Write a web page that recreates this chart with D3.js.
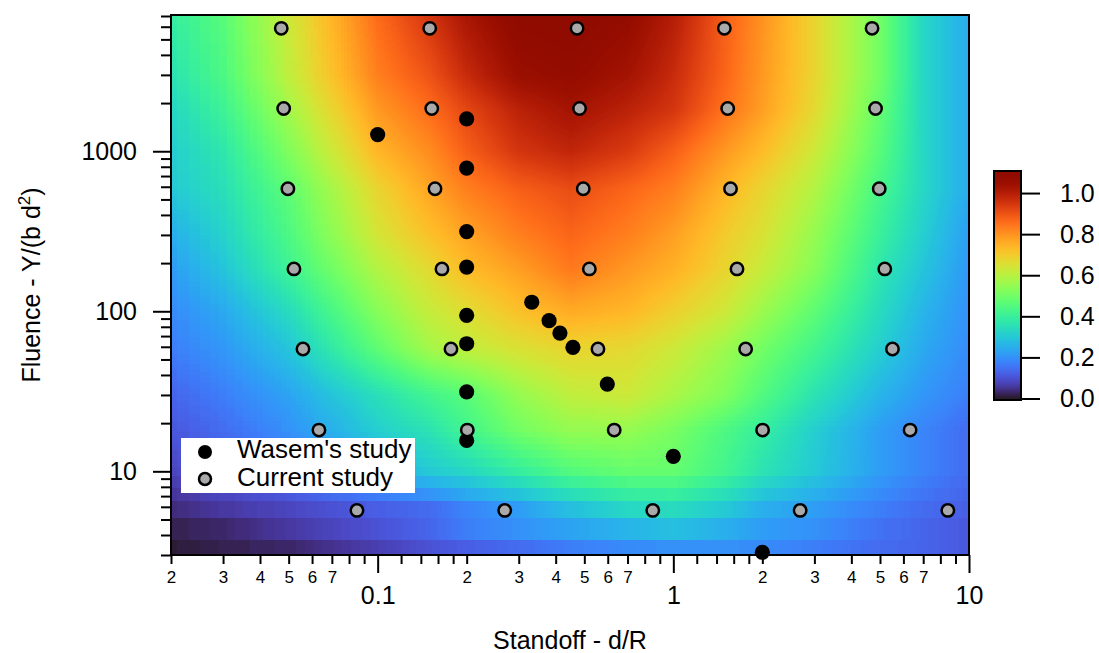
<!DOCTYPE html>
<html lang="en">
<head>
  <meta charset="UTF-8" />
  <title>Standoff / fluence map</title>
  <script src="https://d3js.org/d3.v7.min.js"></script>
  <style>
    html, body { margin: 0; padding: 0; background: #fff; }
    svg { display: block; font-family: "Liberation Sans", Arial, Helvetica, sans-serif; }
    .tick line { stroke: #000; stroke-width: 2px; }
    .domain { display: none; }
  </style>
</head>
<body>
  <svg width="1099" height="653"></svg>
  <script>
    // map values at these standoff / fluence nodes
    const gridStandoff = [0.02, 0.03, 0.05, 0.1, 0.15, 0.2, 0.3, 0.45, 0.7, 1, 1.5, 2, 3, 5, 7, 10];
    const gridFluence = [3, 4.4, 5.8, 10, 18, 30, 58, 100, 183, 300, 580, 1000, 1830, 3000, 7000];
    const gridValues = [
      [0.01, 0.02, 0.03, 0.07, 0.10, 0.12, 0.14, 0.17, 0.19, 0.20, 0.20, 0.19, 0.17, 0.14, 0.13, 0.11],
      [0.02, 0.03, 0.06, 0.10, 0.13, 0.17, 0.20, 0.23, 0.26, 0.28, 0.25, 0.22, 0.20, 0.15, 0.13, 0.11],
      [0.04, 0.06, 0.08, 0.12, 0.14, 0.18, 0.22, 0.28, 0.33, 0.34, 0.30, 0.25, 0.22, 0.17, 0.14, 0.12],
      [0.08, 0.11, 0.15, 0.24, 0.30, 0.33, 0.39, 0.45, 0.48, 0.48, 0.42, 0.36, 0.30, 0.22, 0.18, 0.14],
      [0.11, 0.14, 0.20, 0.31, 0.36, 0.42, 0.50, 0.55, 0.55, 0.51, 0.44, 0.39, 0.31, 0.22, 0.18, 0.14],
      [0.13, 0.17, 0.23, 0.35, 0.42, 0.46, 0.55, 0.61, 0.63, 0.58, 0.52, 0.45, 0.36, 0.26, 0.21, 0.17],
      [0.17, 0.21, 0.29, 0.47, 0.57, 0.61, 0.65, 0.68, 0.67, 0.63, 0.56, 0.50, 0.42, 0.31, 0.24, 0.19],
      [0.19, 0.24, 0.34, 0.53, 0.62, 0.66, 0.72, 0.76, 0.74, 0.69, 0.63, 0.56, 0.47, 0.34, 0.26, 0.20],
      [0.22, 0.29, 0.41, 0.59, 0.67, 0.73, 0.78, 0.84, 0.79, 0.75, 0.68, 0.62, 0.53, 0.37, 0.29, 0.21],
      [0.25, 0.32, 0.44, 0.64, 0.72, 0.77, 0.83, 0.87, 0.83, 0.78, 0.70, 0.65, 0.55, 0.40, 0.31, 0.22],
      [0.30, 0.35, 0.47, 0.68, 0.77, 0.83, 0.88, 0.91, 0.87, 0.83, 0.74, 0.68, 0.59, 0.43, 0.33, 0.24],
      [0.31, 0.37, 0.52, 0.74, 0.81, 0.88, 0.95, 0.98, 0.94, 0.88, 0.79, 0.73, 0.63, 0.46, 0.33, 0.24],
      [0.33, 0.41, 0.57, 0.79, 0.86, 0.92, 0.99, 1.03, 0.99, 0.95, 0.85, 0.78, 0.67, 0.48, 0.33, 0.24],
      [0.36, 0.44, 0.61, 0.83, 0.90, 0.97, 1.05, 1.07, 1.03, 0.97, 0.87, 0.79, 0.68, 0.50, 0.33, 0.24],
      [0.39, 0.46, 0.63, 0.86, 0.95, 1.02, 1.09, 1.10, 1.07, 1.00, 0.88, 0.80, 0.68, 0.50, 0.33, 0.24]
    ];

    const wasemStandoff = [0.1, 0.2, 0.2, 0.2, 0.2, 0.2, 0.2, 0.2, 0.2, 0.332, 0.38, 0.4135, 0.4575, 0.598, 1.0, 2.0];
    const wasemFluence = [1271, 1592, 785, 315, 189, 94.4, 62.7, 31.4, 15.6, 113.9, 87.3, 73.1, 59.5, 35.1, 12.4, 3.12];

    const currentStandoff = [
      0.0472, 0.150, 0.4725, 1.488, 4.70,
      0.0481, 0.1524, 0.4817, 1.527, 4.83,
      0.0497, 0.1563, 0.4958, 1.561, 4.97,
      0.0521, 0.165, 0.520, 1.642, 5.19,
      0.0559, 0.177, 0.556, 1.756, 5.51,
      0.0633, 0.201, 0.631, 2.004, 6.32,
      0.0851, 0.269, 0.852, 2.685, 8.48
    ];
    const currentFluence = [
      5860, 5860, 5860, 5860, 5860,
      1849, 1849, 1849, 1849, 1849,
      583, 583, 583, 583, 583,
      184, 184, 184, 184, 184,
      58.1, 58.1, 58.1, 58.1, 58.1,
      18.1, 18.1, 18.1, 18.1, 18.1,
      5.70, 5.70, 5.70, 5.70, 5.70
    ];

    const xMajorTicks = [0.1, 1, 10];
    const xMinorTicks = [0.02, 0.03, 0.04, 0.05, 0.06, 0.07, 0.08, 0.09,
      0.12, 0.14, 0.16, 0.18, 0.2, 0.3, 0.4, 0.5, 0.6, 0.7, 0.8, 0.9,
      1.2, 1.4, 1.6, 1.8, 2, 3, 4, 5, 6, 7, 8, 9];
    const xMinorLabels = {0.02: "2", 0.03: "3", 0.04: "4", 0.05: "5", 0.06: "6", 0.07: "7",
      0.2: "2", 0.3: "3", 0.4: "4", 0.5: "5", 0.6: "6", 0.7: "7",
      2: "2", 3: "3", 4: "4", 5: "5", 6: "6", 7: "7"};
    const yMajorTicks = [10, 100, 1000];
    const yMinorTicks = [3, 4, 5, 6, 7, 8, 9, 20, 30, 40, 50, 60, 70, 80, 90,
      200, 300, 400, 500, 600, 700, 800, 900, 2000, 3000, 4000, 5000, 6000, 7000];
    const colorTicks = [0, 0.2, 0.4, 0.6, 0.8, 1.0];

    const svg = d3.select("svg");
    const mLeft = 171, mRight = 969, mTop = 16, mBottom = 555;

    const x = d3.scaleLog().domain([0.02, 10]).range([mLeft, mRight]);
    const y = d3.scaleLog().domain([3, 7000]).range([mBottom, mTop]);
    const vmax = 1.1;
    const lut = d3.range(256).map(i => d3.rgb(d3.interpolateTurbo(i / 255)));

    // --- heat map on a canvas, pasted in as an image
    const W = mRight - mLeft, H = mBottom - mTop;
    const canvas = document.createElement("canvas");
    canvas.width = W; canvas.height = H;
    const ctx = canvas.getContext("2d");
    const img = ctx.createImageData(W, H);
    const lxs = gridStandoff.map(Math.log10);
    const lys = gridFluence.map(Math.log10);

    function locate(arr, v) {
      let i = d3.bisectRight(arr, v) - 1;
      i = Math.max(0, Math.min(arr.length - 2, i));
      const f = Math.max(0, Math.min(1, (v - arr[i]) / (arr[i + 1] - arr[i])));
      return [i, f];
    }

    for (let py = 0; py < H; py++) {
      const yv = y.invert(mTop + py + 0.5);
      const yq = 3 + 1.4 * Math.round((yv - 3) / 1.4);   // rows of the original grid
      const [j, fy] = locate(lys, Math.log10(yq));
      for (let px = 0; px < W; px++) {
        const xv = x.invert(mLeft + px + 0.5);
        const xq = 0.02 + 0.002 * Math.round((xv - 0.02) / 0.002);
        const [i, fx] = locate(lxs, Math.log10(xq));
        const v = (1 - fx) * (1 - fy) * gridValues[j][i] + fx * (1 - fy) * gridValues[j][i + 1]
          + (1 - fx) * fy * gridValues[j + 1][i] + fx * fy * gridValues[j + 1][i + 1];
        const c = lut[Math.round(Math.max(0, Math.min(1, v / vmax)) * 255)];
        const k = (py * W + px) * 4;
        img.data[k] = c.r; img.data[k + 1] = c.g; img.data[k + 2] = c.b; img.data[k + 3] = 255;
      }
    }
    ctx.putImageData(img, 0, 0);

    svg.append("image")
      .attr("x", mLeft).attr("y", mTop)
      .attr("width", W).attr("height", H)
      .attr("preserveAspectRatio", "none")
      .attr("href", canvas.toDataURL());

    svg.append("rect")
      .attr("x", mLeft).attr("y", mTop - 1)
      .attr("width", W).attr("height", H + 1)
      .attr("fill", "none").attr("stroke", "#000").attr("stroke-width", 2);

    // --- axes
    const xMinor = svg.append("g").attr("transform", `translate(0,${mBottom})`)
      .call(d3.axisBottom(x).tickValues(xMinorTicks).tickSize(9).tickPadding(7)
        .tickFormat(d => xMinorLabels[d] || ""));
    xMinor.selectAll("text").attr("font-size", 17).attr("font-family", null);

    const xMajor = svg.append("g").attr("transform", `translate(0,${mBottom})`)
      .call(d3.axisBottom(x).tickValues(xMajorTicks).tickSize(18).tickPadding(13)
        .tickFormat(d => String(d)));
    xMajor.selectAll("text").attr("font-size", 25).attr("font-family", null);

    svg.append("g").attr("transform", `translate(${mLeft},0)`)
      .call(d3.axisLeft(y).tickValues(yMinorTicks).tickSize(10).tickFormat(""));

    const yMajor = svg.append("g").attr("transform", `translate(${mLeft},0)`)
      .call(d3.axisLeft(y).tickValues(yMajorTicks).tickSize(18).tickPadding(16)
        .tickFormat(d => String(d)));
    yMajor.selectAll("text").attr("font-size", 25).attr("font-family", null);

    svg.append("text")
      .attr("x", 570).attr("y", 649)
      .attr("text-anchor", "middle").attr("font-size", 25)
      .text("Standoff - d/R");

    const yTitle = svg.append("text")
      .attr("transform", "translate(40,285) rotate(-90)")
      .attr("text-anchor", "middle").attr("font-size", 25);
    yTitle.append("tspan").text("Fluence - Y/(b d");
    yTitle.append("tspan").attr("dy", -10).attr("font-size", 17).text("2");
    yTitle.append("tspan").attr("dy", 10).text(")");

    // --- markers
    svg.append("g").selectAll("circle")
      .data(d3.range(wasemStandoff.length))
      .enter().append("circle")
      .attr("cx", i => x(wasemStandoff[i]))
      .attr("cy", i => y(wasemFluence[i]))
      .attr("r", 7.6)
      .attr("fill", "#000");

    svg.append("g").selectAll("circle")
      .data(d3.range(currentStandoff.length))
      .enter().append("circle")
      .attr("cx", i => x(currentStandoff[i]))
      .attr("cy", i => y(currentFluence[i]))
      .attr("r", 6.2)
      .attr("fill", "#a9a9a9")
      .attr("stroke", "#000").attr("stroke-width", 2.5);

    // --- legend
    const legend = svg.append("g");
    legend.append("rect").attr("x", 181).attr("y", 438).attr("width", 234).attr("height", 55).attr("fill", "#fff");
    legend.append("circle").attr("cx", 205).attr("cy", 452).attr("r", 7).attr("fill", "#000");
    legend.append("circle").attr("cx", 205).attr("cy", 479).attr("r", 6).attr("fill", "#a9a9a9")
      .attr("stroke", "#000").attr("stroke-width", 2.5);
    legend.append("text").attr("x", 237).attr("y", 458).attr("font-size", 26).text("Wasem's study");
    legend.append("text").attr("x", 237).attr("y", 486).attr("font-size", 26).text("Current study");

    // --- colour bar
    const cb = d3.scaleLinear().domain([0, vmax]).range([398.5, 172.5]);
    const cbTop = 171, cbBottom = 400;
    const grad = svg.append("defs").append("linearGradient")
      .attr("id", "cbgrad").attr("x1", 0).attr("x2", 0).attr("y1", 0).attr("y2", 1);
    d3.range(41).forEach(k => {
      const v = cb.invert(cbTop + (cbBottom - cbTop) * k / 40);
      grad.append("stop").attr("offset", k / 40)
        .attr("stop-color", d3.interpolateTurbo(Math.max(0, Math.min(1, v / vmax))));
    });
    svg.append("rect")
      .attr("x", 994).attr("y", cbTop)
      .attr("width", 27).attr("height", cbBottom - cbTop)
      .attr("fill", "url(#cbgrad)")
      .attr("stroke", "#000").attr("stroke-width", 2);

    const cbAxis = svg.append("g").attr("transform", "translate(1021,0)")
      .call(d3.axisRight(cb).tickValues(colorTicks).tickSize(19).tickPadding(20)
        .tickFormat(d3.format(".1f")));
    cbAxis.selectAll("text").attr("font-size", 25).attr("font-family", null);
  </script>
</body>
</html>
